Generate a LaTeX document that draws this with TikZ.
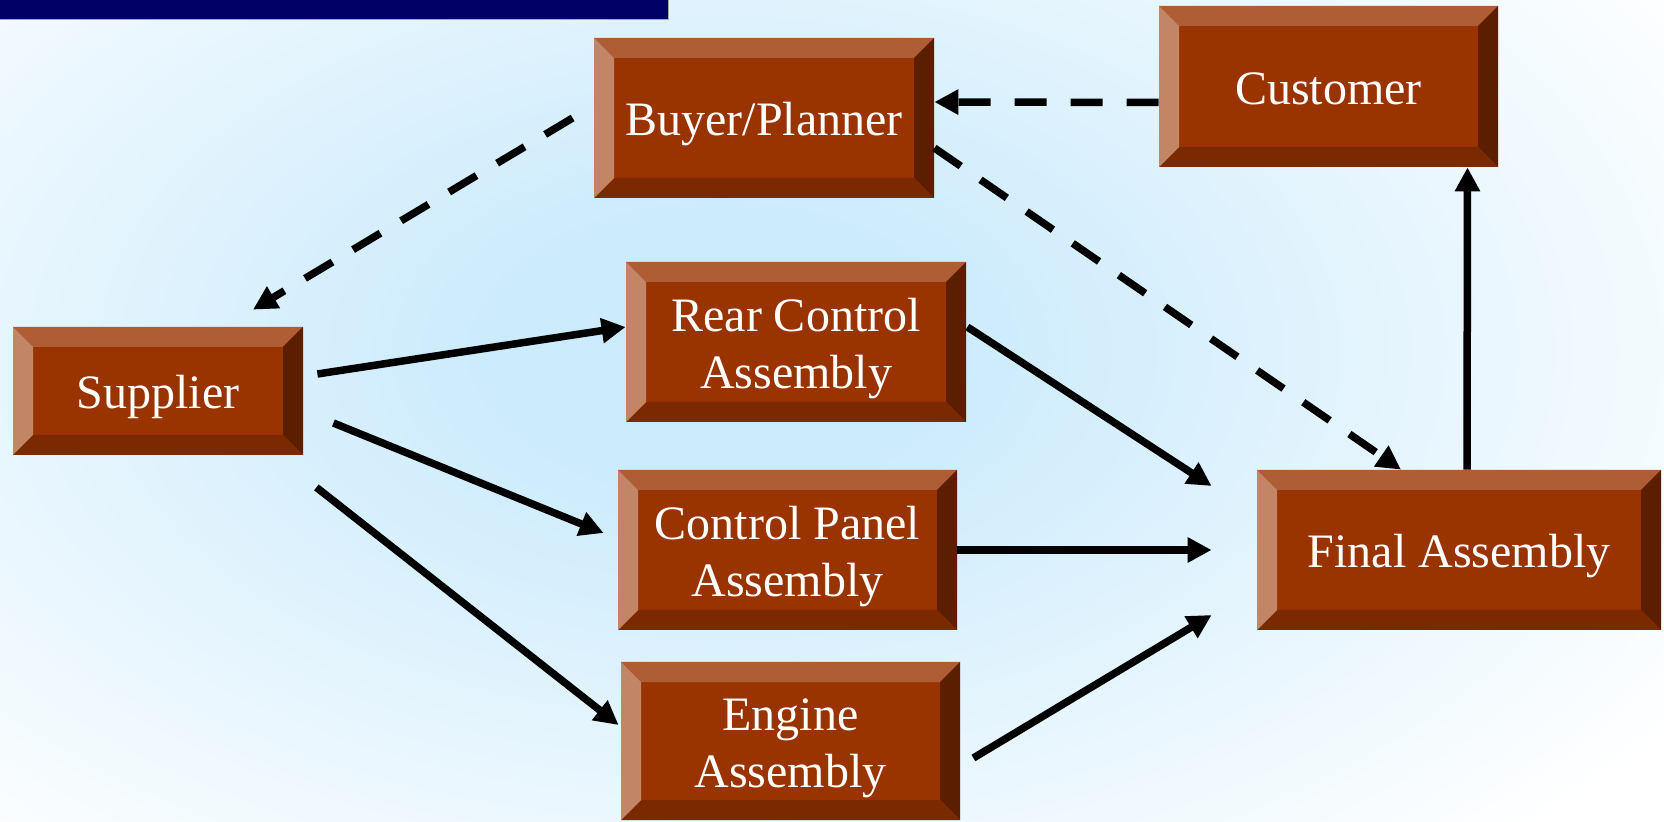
\documentclass[tikz,border=0pt]{standalone}
\usepackage{fontspec}
\setmainfont{Liberation Serif}
\usetikzlibrary{arrows.meta}
\definecolor{face}{RGB}{153,51,0}
\definecolor{bevT}{RGB}{174,93,53}
\definecolor{bevL}{RGB}{194,134,102}
\definecolor{bevB}{RGB}{122,41,0}
\definecolor{bevR}{RGB}{92,30,0}
\definecolor{bgc}{RGB}{204,235,252}
\definecolor{navy}{RGB}{0,0,102}
\newcommand\boxfont{\fontsize{24}{28.5}\selectfont}
\newcommand\twolines[2]{\begin{tabular}[b]{@{}c@{}}#1\\#2\end{tabular}}
\pgfdeclareradialshading{bgshade}{\pgfpoint{0bp}{0bp}}{color(0bp)=(bgc); color(5bp)=(bgc); color(25bp)=(white); color(50bp)=(white)}
\tikzset{
  bev/.style={rectangle, inner sep=0pt, fill=face, text=white, font=\boxfont,
    text height=18pt, text depth=0pt,
    path picture={
      \path (path picture bounding box.north west) coordinate (pA)
            (path picture bounding box.north east) coordinate (pB)
            (path picture bounding box.south east) coordinate (pC)
            (path picture bounding box.south west) coordinate (pD)
            ([shift={(10pt,-10pt)}]path picture bounding box.north west) coordinate (pa)
            ([shift={(-10pt,-10pt)}]path picture bounding box.north east) coordinate (pb)
            ([shift={(-10pt,10pt)}]path picture bounding box.south east) coordinate (pc)
            ([shift={(10pt,10pt)}]path picture bounding box.south west) coordinate (pd);
      \fill[bevT] (pA)--(pB)--(pb)--(pa)--cycle;
      \fill[bevR] (pB)--(pC)--(pc)--(pb)--cycle;
      \fill[bevB] (pC)--(pD)--(pd)--(pc)--cycle;
      \fill[bevL] (pD)--(pA)--(pa)--(pd)--cycle;
    }},
  bev2/.style={bev, text height=46.5pt, text depth=0pt},
  flow/.style={line width=3.75pt, -{Triangle[length=12pt,width=12pt]}},
  dflow/.style={flow, dash pattern=on 16pt off 12pt}
}
\begin{document}
\begin{tikzpicture}[x=0.5pt,y=-0.5pt]
\useasboundingbox (0,0) rectangle (1664,822);
\begin{scope}
  \clip (0,0) rectangle (1664,822);
  \fill[white] (0,0) rectangle (1664,822);
  \shade[shading=bgshade] (720,350) ellipse [x radius=1150, y radius=680];
\end{scope}
\fill[navy] (0,0) rectangle (668,19);
\draw[gray!70, line width=0.8pt] (0,19.5) -- (668.5,19.5) -- (668.5,0);

\node[bev, minimum width=170pt, minimum height=80pt] (buyer) at (764,118) {Buyer/Planner};
\node[bev, minimum width=169.5pt, minimum height=80.5pt] (customer) at (1328.5,86.5) {Customer};
\node[bev, minimum width=145pt, minimum height=64pt] (supplier) at (158,391) {Supplier};
\node[bev2, minimum width=170pt, minimum height=80pt] (rear) at (796,342) {\twolines{Rear Control}{Assembly}};
\node[bev2, minimum width=169.5pt, minimum height=80pt] (panel) at (787.5,550) {\twolines{Control Panel}{Assembly}};
\node[bev2, minimum width=169.5pt, minimum height=79pt] (engine) at (790.5,741) {\twolines{Engine}{Assembly}};
\node[bev, minimum width=202pt, minimum height=80pt] (final) at (1459,550) {Final Assembly};

\draw[dflow] ([shift={(0,16)}]customer.west) -- ([shift={(0,-16)}]buyer.east);
\draw[dflow] ([shift={(-21,0)}]buyer.west) -- ([shift={(95,-17)}]supplier.north);
\draw[dflow] ([shift={(0,30)}]buyer.east) -- ([shift={(-58,0)}]final.north);
\draw[flow] ([shift={(8,0)}]final.north) -- ([shift={(139,0)}]customer.south);

\draw[flow] ([shift={(14,-17)}]supplier.east) -- ([shift={(0,-15)}]rear.west);
\draw[flow] ([shift={(30,32)}]supplier.east) -- ([shift={(-14,-17)}]panel.west);
\draw[flow] ([shift={(13,32)}]supplier.south east) -- ([shift={(-2,-16)}]engine.west);

\draw[flow] ([shift={(1,-15)}]rear.east) -- ([shift={(-45,-64)}]final.west);
\draw[flow] (panel.east) -- ([shift={(-45,0)}]final.west);
\draw[flow] ([shift={(13,17)}]engine.east) -- ([shift={(-45,65)}]final.west);
\end{tikzpicture}
\end{document}
